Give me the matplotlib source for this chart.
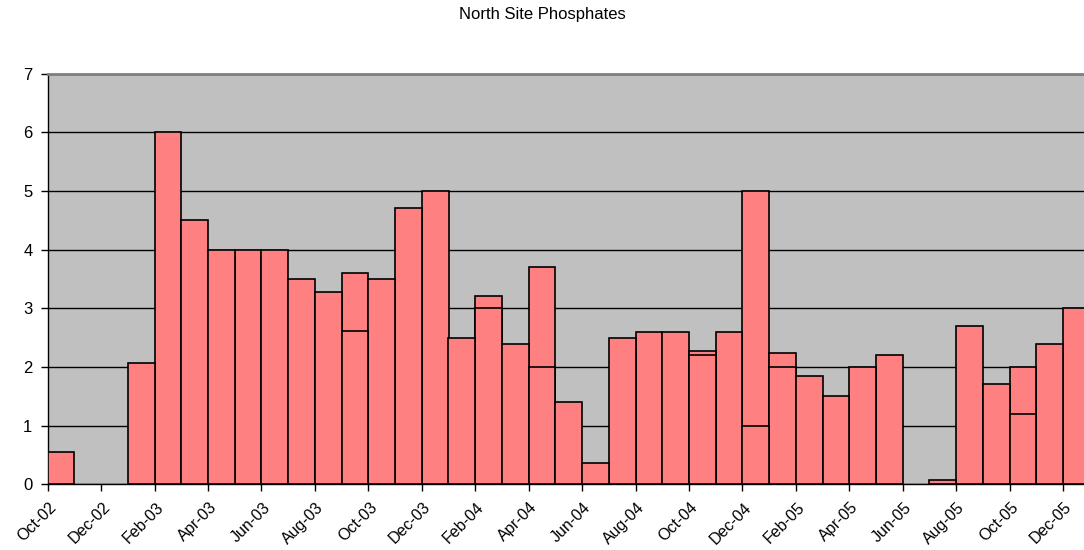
import matplotlib
matplotlib.use("Agg")
import matplotlib.pyplot as plt
import matplotlib.transforms as mtransforms
import numpy as np
import pandas as pd

plt.rcParams["font.family"] = ["Liberation Sans", "DejaVu Sans"]

# sample month of each reading and the phosphate value measured
sample_months = [
    "2002-10", "2003-01", "2003-02", "2003-03", "2003-04", "2003-05", "2003-06",
    "2003-07", "2003-08", "2003-09", "2003-09", "2003-10", "2003-11", "2003-12",
    "2004-01", "2004-02", "2004-02", "2004-03", "2004-04", "2004-04", "2004-05",
    "2004-06", "2004-07", "2004-08", "2004-09", "2004-10", "2004-10", "2004-11",
    "2004-12", "2004-12", "2005-01", "2005-01", "2005-02", "2005-03", "2005-04",
    "2005-05", "2005-07", "2005-08", "2005-09", "2005-10", "2005-10", "2005-11",
    "2005-12",
]
phosphates = [
    0.55, 2.07, 6.0, 4.5, 4.0, 4.0, 4.0,
    3.5, 3.28, 3.6, 2.62, 3.5, 4.71, 5.0,
    2.5, 3.21, 3.0, 2.39, 3.7, 2.0, 1.4,
    0.36, 2.5, 2.6, 2.6, 2.28, 2.2, 2.6,
    5.0, 1.0, 2.23, 2.0, 1.84, 1.5, 2.0,
    2.2, 0.07, 2.7, 1.71, 2.0, 1.2, 2.39,
    3.0,
]
tick_labels = [
    "Oct-02", "Dec-02", "Feb-03", "Apr-03", "Jun-03", "Aug-03", "Oct-03",
    "Dec-03", "Feb-04", "Apr-04", "Jun-04", "Aug-04", "Oct-04", "Dec-04",
    "Feb-05", "Apr-05", "Jun-05", "Aug-05", "Oct-05", "Dec-05",
]

df = pd.DataFrame({"month": pd.to_datetime(sample_months), "value": phosphates})
start = pd.Timestamp("2002-10-01")
df["slot"] = (df["month"].dt.year - start.year) * 12 + df["month"].dt.month - start.month
# taller bars first so the lower reading in a shared month stays visible
df = df.sort_values("value", ascending=False)

fig = plt.figure(figsize=(10.84, 5.5), dpi=100)
ax = fig.add_axes([47.7 / 1084, 1 - 484.3 / 550, 1 - 47.7 / 1084, (484.3 - 73.7) / 550])
ax.set_facecolor("#C0C0C0")

ax.bar(df["slot"], df["value"], width=1.0, align="edge",
       color="#FF8080", edgecolor="black", linewidth=1.2, zorder=3)

ax.set_ylim(0, 7)
ax.set_xlim(0, (1084 - 47.7) / 26.72)
ax.set_yticks(range(8))
ax.yaxis.grid(True, color="black", linewidth=1.0, zorder=1)
ax.set_axisbelow(True)

ax.set_xticks(np.arange(len(tick_labels)) * 2)
ax.set_xticklabels(tick_labels, rotation=45, ha="right", va="top",
                   rotation_mode="anchor", fontsize=11.5)
ax.tick_params(axis="x", direction="out", length=5, width=1, pad=6)
ax.tick_params(axis="y", direction="out", length=5, width=1, labelsize=12, pad=6)

# nudge the slanted date labels a little to the right of their ticks
shift = mtransforms.ScaledTranslation(1 / 100, 0, fig.dpi_scale_trans)
for lbl in ax.get_xticklabels():
    lbl.set_transform(lbl.get_transform() + shift)

for side in ["left", "bottom"]:
    ax.spines[side].set_color("black")
    ax.spines[side].set_linewidth(1.0)
ax.spines["top"].set_color("#808080")
ax.spines["top"].set_linewidth(2.0)
ax.spines["right"].set_visible(False)

fig.text(0.5, 1 - 14 / 550, "North Site Phosphates", ha="center", va="center", fontsize=12)

fig.savefig("out.png", dpi=100)
